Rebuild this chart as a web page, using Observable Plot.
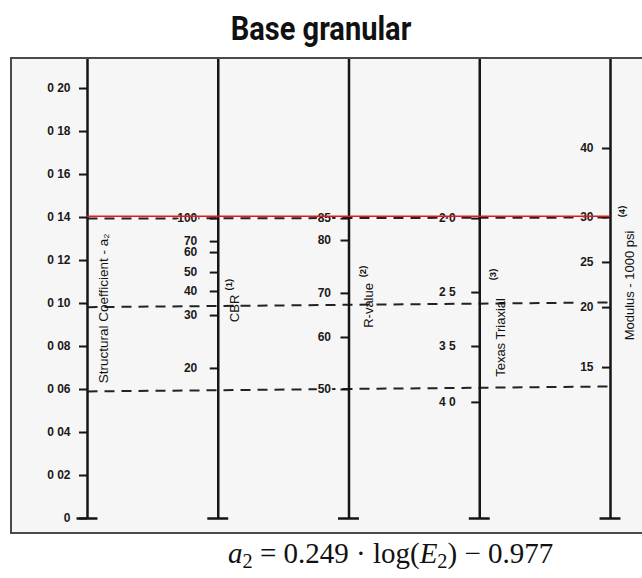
<!DOCTYPE html>
<html><head><meta charset="utf-8">
<script src="https://cdn.jsdelivr.net/npm/d3@7"></script>
<script src="https://cdn.jsdelivr.net/npm/@observablehq/plot@0.6"></script>
<style>
html,body{margin:0;padding:0;background:#fff;width:642px;height:578px;overflow:hidden;position:relative}
#title{position:absolute;top:12px;left:0;width:642px;text-align:center;font:700 33px Roboto,sans-serif;line-height:33px;transform:scaleX(0.88);color:#111}
#chart{position:absolute;left:12px;top:59px;width:632px;height:473px;outline:2px solid #4a4a4a;background:#f6f6f6;overflow:hidden}
#eq{position:absolute;left:228px;top:538px;font:29px "Liberation Serif",serif;line-height:30px;white-space:nowrap;color:#111}
#eq sub{font-size:0.7em;vertical-align:-0.25em;line-height:0}
</style></head><body>
<div id="title">Base granular</div>
<div id="chart"></div>
<div id="eq"><i>a</i><sub>2</sub> = 0.249 · log(<i>E</i><sub>2</sub>) − 0.977</div>
<script>
// ---- data (positions expressed in a2 units) ----
const axisNames = ["Structural Coefficient - a\u2082", "CBR", "R-value", "Texas Triaxial", "Modulus - 1000 psi"];
const axisNotes = ["", "(1)", "(2)", "(3)", "(4)"];
const nameAtA2 = [0.0977, 0.0977, 0.0991, 0.0842, 0.1084];
const noteAtA2 = [null, 0.1088, 0.1149, 0.1135, 0.1428];

const a2Labels = ["0", "0 02", "0 04", "0 06", "0 08", "0 10", "0 12", "0 14", "0 16", "0 18", "0 20"];
const a2Values = [0, 0.02, 0.04, 0.06, 0.08, 0.10, 0.12, 0.14, 0.16, 0.18, 0.20];
const cbrLabels = ["100", "70", "60", "50", "40", "30", "20"];
const cbrAtA2 = [0.1395, 0.1288, 0.1237, 0.1144, 0.1056, 0.0944, 0.0698];
const rLabels = ["85", "80", "70", "60", "50"];
const rAtA2 = [0.1395, 0.1293, 0.1047, 0.0842, 0.0600];
const texasLabels = ["2 0", "2 5", "3 5", "4 0"];
const texasAtA2 = [0.1395, 0.1051, 0.0800, 0.0540];
const modulusLabels = ["40", "30", "25", "20", "15"];
const modulusAtA2 = [0.1721, 0.1400, 0.1191, 0.0981, 0.0702];

const guideStart = [0.1395, 0.0983, 0.0591];
const guideEnd = [0.1400, 0.1005, 0.0614];
const redA2 = 0.1406;

// ---- layout / style ----
const W = 630, H = 473;
const bg = "#f6f6f6", ink = "#151515";
const unit = (598 - 75) / 4; // px per axis step
const tickLen = 8 / unit;
const labelGap = [-17, -21, -18, -24, -17];
const nameDx = [16, 17, 20, 21, 19];
const noteDx = [0, 11, 14, 13, 11];

const axes = [0, 1, 2, 3, 4];
const tickSets = [
  [a2Labels, a2Values], [cbrLabels, cbrAtA2], [rLabels, rAtA2],
  [texasLabels, texasAtA2], [modulusLabels, modulusAtA2]
].map(([labs, vals], i) => labs.map((l, j) => ({axis: i, label: l, a2: vals[j]})));
const guides = guideStart.map((s, i) => ({start: s, end: guideEnd[i]}));
const names = axes.map(i => ({axis: i, name: axisNames[i], a2: nameAtA2[i], note: axisNotes[i], noteA2: noteAtA2[i]}));

const marks = [];
marks.push(Plot.link(guides, {x1: 0, x2: 4, y1: "start", y2: "end", stroke: "#222", strokeWidth: 2, strokeDasharray: "10,7"}));
marks.push(Plot.ruleX(axes, {x: d => d, stroke: ink, strokeWidth: 2.5}));
marks.push(Plot.ruleY(axes, {y: 0, x1: d => d - 0.08, x2: d => d + 0.08, stroke: ink, strokeWidth: 2.5}));
tickSets.forEach((ts, i) => {
  marks.push(Plot.ruleY(ts, {y: "a2", x1: d => d.axis - tickLen, x2: d => d.axis, stroke: ink, strokeWidth: 2}));
  marks.push(Plot.text(ts, {x: "axis", y: "a2", text: "label", textAnchor: "end", dx: labelGap[i], dy: 0,
    fill: "#1a1a1a", fontWeight: "bold", stroke: bg, strokeWidth: 3, paintOrder: "stroke", fontSize: 12}));
});
names.forEach(d => {
  marks.push(Plot.text([d], {x: "axis", y: "a2", text: "name", rotate: -90, dx: nameDx[d.axis],
    fill: "#111", fontSize: d.axis === 0 ? 13.5 : 13}));
  if (d.noteA2 != null) marks.push(Plot.text([d], {x: "axis", y: "noteA2", text: "note", rotate: -90,
    dx: noteDx[d.axis], fill: "#111", fontWeight: "bold", fontSize: 9.5}));
});
marks.push(Plot.ruleY([redA2], {y: d => d, x1: 0, x2: 4, stroke: "#e3191c", strokeWidth: 1.6}));

const chart = Plot.plot({
  width: W, height: H,
  marginLeft: 75, marginRight: W - 598, marginTop: 0, marginBottom: 14,
  x: {domain: [0, 4], axis: null},
  y: {domain: [0, 0.2135], axis: null},
  style: {background: bg, fontFamily: "'Liberation Sans', Arial, sans-serif", overflow: "visible"},
  marks
});
document.getElementById("chart").appendChild(chart);
</script></body></html>
